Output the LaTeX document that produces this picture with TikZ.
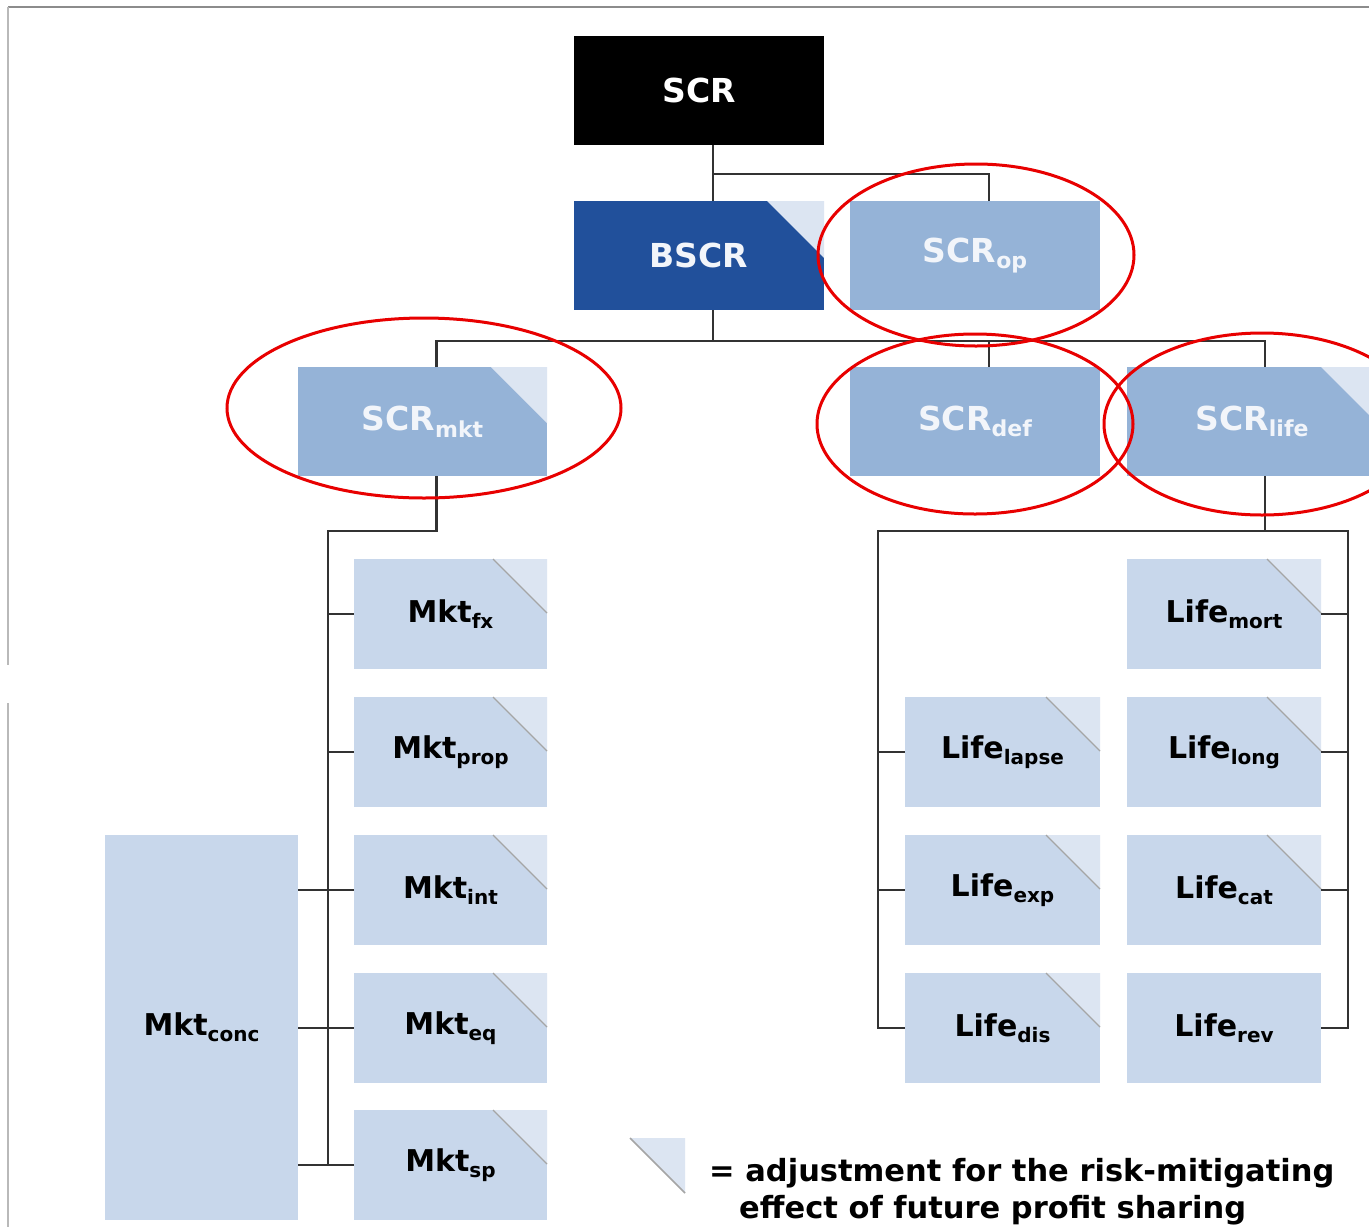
\documentclass[tikz,border=0pt]{standalone}
\usepackage{fontspec}
\setmainfont{DejaVu Sans}
\usetikzlibrary{calc}
\definecolor{dblue}{RGB}{33,80,155}
\definecolor{mblue}{RGB}{149,179,215}
\definecolor{lblue}{RGB}{200,215,235}
\definecolor{tri}{RGB}{220,229,242}
\definecolor{lnc}{RGB}{50,50,50}
\definecolor{edgec}{RGB}{165,165,165}
\definecolor{txtw}{RGB}{242,245,250}
\definecolor{ringred}{RGB}{232,0,0}
\newcommand{\lbl}[3]{#1\raisebox{-0.2em}{\fontsize{#3}{#3}\selectfont #2}}
\newcommand{\flagcorner}[2]{%
  \fill[tri] ($(#1.north east)+(-#2,0)$) -- (#1.north east) -- ($(#1.north east)+(0,#2)$) -- cycle;}
\newcommand{\flagcorneredge}[2]{%
  \fill[tri] ($(#1.north east)+(-#2,0)$) -- (#1.north east) -- ($(#1.north east)+(0,#2)$) -- cycle;
  \draw[edgec,line width=1.2] ($(#1.north east)+(-#2,0)$) -- ($(#1.north east)+(0,#2)$);}
\tikzset{
  box/.style={rectangle, inner sep=0pt, outer sep=0pt},
  bigbox/.style={box, minimum width=250, minimum height=109, font=\bfseries\fontsize{33}{33}\selectfont},
  midbox/.style={bigbox, fill=mblue, text=txtw},
  smallbox/.style={box, fill=lblue, minimum width=194, minimum height=110, text=black, font=\bfseries\fontsize{30}{30}\selectfont},
  conn/.style={draw=lnc, line width=2.2},
  ring/.style={draw=ringred, line width=3},
  legtext/.style={anchor=base west, inner sep=0pt, font=\bfseries\fontsize{30.5}{30.5}\selectfont},
}
\begin{document}
\begin{tikzpicture}[x=1pt,y=-1pt]
\useasboundingbox (0,0) rectangle (1369,1227);
\clip (0,0) rectangle (1369,1227);
\fill[white] (0,0) rectangle (1369,1227);
% frame of the screenshot
\draw[gray!90,line width=2] (8,7) -- (1369,7);
\draw[gray!55,line width=2] (8,7) -- (8,665);
\draw[gray!55,line width=2] (8,703) -- (8,1227);

% top level
\node[bigbox, fill=black, text=white] (SCR) at (699,90.5) {SCR};
\node[bigbox, fill=dblue, text=txtw] (BSCR) at (699,255.5) {BSCR};
\node[midbox] (SCRop) at (975,255.5) {\lbl{SCR}{op}{22}};
\node[midbox, minimum width=249] (SCRmkt) at (422.5,421.5) {\lbl{SCR}{mkt}{22}};
\node[midbox] (SCRdef) at (975,421.5) {\lbl{SCR}{def}{22}};
\node[midbox] (SCRlife) at (1252,421.5) {\lbl{SCR}{life}{22}};

% market modules
\node[smallbox, minimum width=193] (Mktfx) at (450.5,614) {\lbl{Mkt}{fx}{20}};
\node[smallbox, minimum width=193] (Mktprop) at (450.5,752) {\lbl{Mkt}{prop}{20}};
\node[smallbox, minimum width=193] (Mktint) at (450.5,890) {\lbl{Mkt}{int}{20}};
\node[smallbox, minimum width=193] (Mkteq) at (450.5,1028) {\lbl{Mkt}{eq}{20}};
\node[smallbox, minimum width=193] (Mktsp) at (450.5,1165) {\lbl{Mkt}{sp}{20}};
\node[smallbox, minimum width=193, minimum height=385] (Mktconc) at (201.5,1027.5) {\lbl{Mkt}{conc}{20}};

% life modules
\node[smallbox] (Lifemort) at (1224,614) {\lbl{Life}{mort}{20}};
\node[smallbox] (Lifelong) at (1224,752) {\lbl{Life}{long}{20}};
\node[smallbox] (Lifecat) at (1224,890) {\lbl{Life}{cat}{20}};
\node[smallbox] (Liferev) at (1224,1028) {\lbl{Life}{rev}{20}};
\node[smallbox, minimum width=195] (Lifelapse) at (1002.5,752) {\lbl{Life}{lapse}{20}};
\node[smallbox, minimum width=195] (Lifeexp) at (1002.5,890) {\lbl{Life}{exp}{20}};
\node[smallbox, minimum width=195] (Lifedis) at (1002.5,1028) {\lbl{Life}{dis}{20}};

% corner marks
\flagcorner{BSCR}{57}
\flagcorner{SCRmkt}{56}
\flagcorner{SCRlife}{56}
\foreach \n in {Mktfx,Mktprop,Mktint,Mkteq,Mktsp,Lifemort,Lifelong,Lifecat,Lifelapse,Lifeexp,Lifedis}{\flagcorneredge{\n}{54}}

% connectors, top
\coordinate (t1) at (713,174);
\coordinate (t2) at (713,341);
\coordinate (opd) at ($(SCRop.north)+(14,0)$);
\coordinate (mkd) at ($(SCRmkt.north)+(14,0)$);
\coordinate (dfd) at ($(SCRdef.north)+(14,0)$);
\coordinate (lfd) at ($(SCRlife.north)+(13,0)$);
\draw[conn] (SCR.south -| t1) -- (BSCR.north -| t1);
\draw[conn] (t1) -| (opd);
\draw[conn] (BSCR.south -| t2) -- (t2);
\draw[conn] (mkd) -- (mkd |- t2) -- (lfd |- t2) -- (lfd);
\draw[conn] (dfd |- t2) -- (dfd);

% connectors, market
\coordinate (mkb) at ($(SCRmkt.south)+(14,0)$);
\coordinate (mkv) at (328,531);
\draw[conn] (mkb) -- (mkb |- mkv) -- (mkv) -- (mkv |- Mktsp.west);
\draw[conn] (mkv |- Mktfx.west) -- (Mktfx.west);
\draw[conn] (mkv |- Mktprop.west) -- (Mktprop.west);
\draw[conn] (Mktconc.east |- Mktint.west) -- (Mktint.west);
\draw[conn] (Mktconc.east |- Mkteq.west) -- (Mkteq.west);
\draw[conn] (Mktconc.east |- Mktsp.west) -- (Mktsp.west);

% connectors, life
\coordinate (lfb) at ($(SCRlife.south)+(13,0)$);
\coordinate (lL) at (878,531);
\coordinate (lR) at (1348,531);
\draw[conn] (lfb) -- (lfb |- lL);
\draw[conn] (Lifedis.west) -- (lL |- Lifedis.west) -- (lL) -- (lR) -- (lR |- Liferev.east) -- (Liferev.east);
\draw[conn] (lL |- Lifelapse.west) -- (Lifelapse.west);
\draw[conn] (lL |- Lifeexp.west) -- (Lifeexp.west);
\draw[conn] (Lifemort.east) -- (lR |- Lifemort.east);
\draw[conn] (Lifelong.east) -- (lR |- Lifelong.east);
\draw[conn] (Lifecat.east) -- (lR |- Lifecat.east);

% legend
\coordinate (lg1) at (630,1138);
\coordinate (lg2) at (685,1138);
\coordinate (lg3) at (685,1193);
\fill[tri] (lg1) -- (lg2) -- (lg3) -- cycle;
\draw[edgec,line width=1.5] (lg1) -- (lg3);
\node[legtext] (leg1) at (709,1181) {= adjustment for the risk-mitigating};
\node[legtext] (leg2) at (739,1218) {effect of future profit sharing};

% red rings
\draw[ring] (976,255) ellipse [x radius=158pt, y radius=91pt];
\draw[ring] (424,408) ellipse [x radius=197pt, y radius=90pt];
\draw[ring] (975,424) ellipse [x radius=158pt, y radius=90pt];
\draw[ring] (1262,424) ellipse [x radius=158pt, y radius=91pt];
\end{tikzpicture}
\end{document}
